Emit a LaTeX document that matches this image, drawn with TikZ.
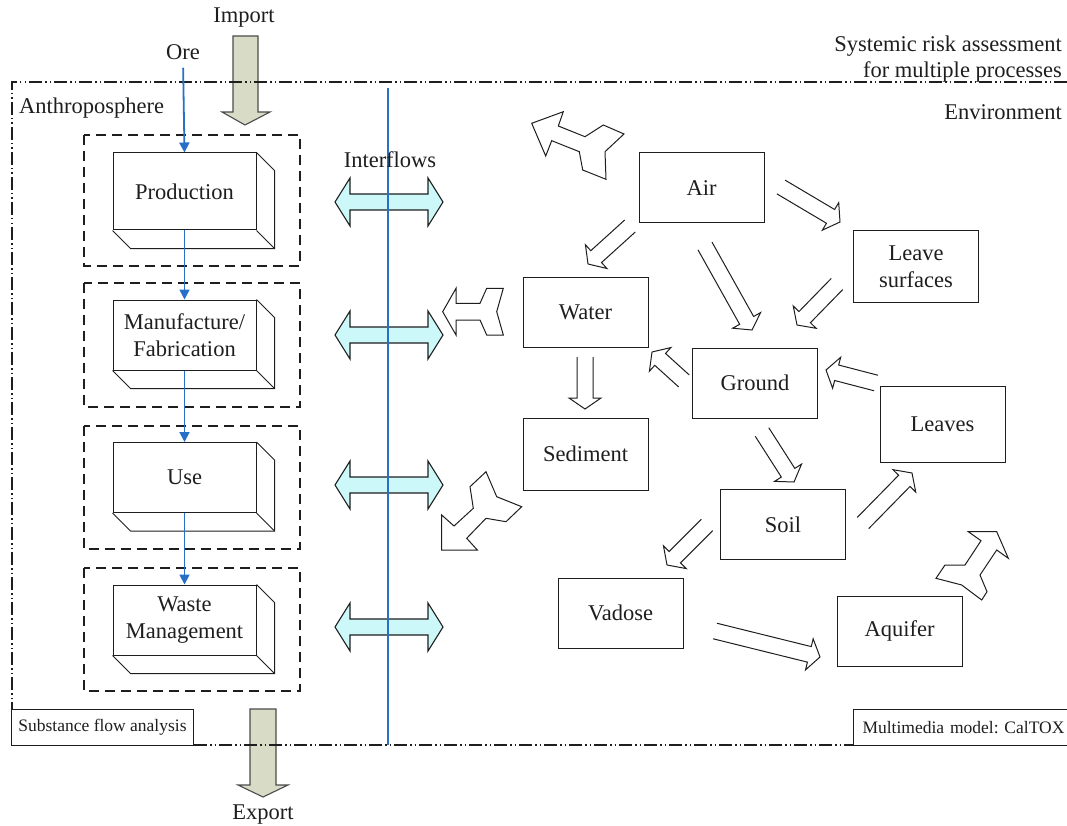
\documentclass[tikz,border=0pt]{standalone}
\usepackage{fontspec}
\setmainfont{Liberation Serif}
\usetikzlibrary{calc,arrows.meta}
\definecolor{flowblue}{RGB}{38,112,200}
\definecolor{tradefill}{RGB}{216,219,198}
\definecolor{interfill}{RGB}{204,248,250}
\definecolor{ink}{RGB}{30,30,30}
\frenchspacing
\tikzset{
  lbl/.style={font=\fontsize{22.5}{27}\selectfont, inner sep=0pt, align=center, text=ink},
  smalllbl/.style={font=\fontsize{17.5}{20}\selectfont, inner sep=0pt, text=ink},
  envbox/.style={draw=ink, line width=1pt, font=\fontsize{22.5}{27}\selectfont, align=center,
    minimum width=125pt, minimum height=70pt, inner sep=0pt, text=ink},
  procbox/.style={draw=ink, line width=1pt, font=\fontsize{22.5}{27}\selectfont, align=center,
    minimum width=143pt, minimum height=70pt, inner sep=0pt, text=ink},
  extrude/.style={draw=ink, line width=1pt},
  stagebox/.style={draw=ink, line width=1.8pt, dash pattern=on 10pt off 6pt},
  frame/.style={draw=ink, line width=1.3pt, dash pattern=on 13pt off 3pt on 1.5pt off 3pt on 1.5pt off 3pt},
  trade/.style={draw=ink!80, line width=1.1pt, fill=tradefill, line join=miter},
  inter/.style={draw=ink, line width=1.1pt, fill=interfill, line join=miter},
  blueflow/.style={draw=flowblue, line width=1.8pt, -{Triangle[length=10pt,width=10pt]}},
  flow/.style={draw=ink, line width=1pt, line join=miter},
  forked/.style={draw=ink, line width=1pt, line join=miter},
}
% hollow block arrow with an open tail: #1 name, #2 tail centre, #3 tip
\newcommand\flowarrow[3]{%
  \coordinate (#1-t) at (#2);
  \coordinate (#1-p) at (#3);
  \coordinate (#1-h) at ($(#1-p)!11pt!(#1-t)$);
  \draw[flow] ($(#1-t)!8pt!90:(#1-p)$) -- ($(#1-h)!8pt!90:(#1-p)$)
    -- ($(#1-h)!16pt!90:(#1-p)$) -- (#1-p) -- ($(#1-h)!16pt!-90:(#1-p)$)
    -- ($(#1-h)!8pt!-90:(#1-p)$) -- ($(#1-t)!8pt!-90:(#1-p)$);
}
% double-headed interflow arrow centred on height #1
\newcommand\interarrow[1]{%
  \draw[inter] (335,#1) -- (350,#1-24) -- (350,#1-8) -- (428,#1-8) -- (428,#1-24)
    -- (443,#1) -- (428,#1+24) -- (428,#1+8) -- (350,#1+8) -- (350,#1+24) -- cycle;
}
\begin{document}
\begin{tikzpicture}[x=1pt,y=-1pt]
\useasboundingbox (0,0) rectangle (1067,826);

% import and export of goods
\draw[trade] (233,36) -- (258,36) -- (258,112) -- (270,112) -- (245,125) -- (222,112) -- (233,112) -- cycle;
\node[lbl] (import) at (244,18) {Import};
\draw[trade] (250,709) -- (276,709) -- (276,785) -- (288,785) -- (263,797) -- (238,785) -- (250,785) -- cycle;
\node[lbl] (export) at (263,815) {Export};

% system boundary (open towards the right border)
\draw[frame] (1067,82) -| (12,745) -- (1067,745);
\node[lbl, anchor=east] (sra1) at (1062,46) {Systemic risk assessment};
\node[lbl, anchor=east] (sra2) at (1062,72) {for multiple processes};
\node[lbl, anchor=east] (envlbl) at (1062,112) {Environment};
\node[lbl, anchor=west] (anthlbl) at (19,108) {Anthroposphere};

% life-cycle stages
\draw[stagebox] (84,135) rectangle (300,266);
\draw[stagebox] (84,283) rectangle (300,407);
\draw[stagebox] (84,426) rectangle (300,549);
\draw[stagebox] (84,568) rectangle (300,691);

\node[procbox, minimum height=77pt] (prod) at (184.5,191.5) {Production};
\node[procbox] (manu) at (184.5,335) {Manufacture/\\Fabrication};
\node[procbox] (use) at (184.5,477.5) {Use};
\node[procbox] (waste) at (184.5,620) {Waste\\Management};
\foreach \b in {prod,manu,use,waste}{
  \draw[extrude] (\b.south west) -- ++(18,18) -| ($(\b.north east)+(18,18)$) -- (\b.north east);
  \draw[extrude] (\b.south east) -- ++(18,18);
}

\node[lbl] (ore) at (183,52) {Ore};
\draw[blueflow, shorten <=8pt] (ore.south) -- (prod.north);
\draw[blueflow] (prod.south) -- (manu.north);
\draw[blueflow] (manu.south) -- (use.north);
\draw[blueflow] (use.south) -- (waste.north);

% interflows across the boundary
\interarrow{202}
\interarrow{335}
\interarrow{485}
\interarrow{627}
\coordinate (divtop) at (388,88);
\coordinate (divbot) at (388,745);
\draw[flowblue, line width=2pt] (divtop) -- (divbot);
\node[lbl] (interlbl) at (390,160) {Interflows};

% labels of the two models
\node[smalllbl, draw=ink, line width=1pt, fill=white, minimum width=182pt, minimum height=36pt, anchor=north west] (sfa) at (11,709) {Substance flow analysis};
\node[smalllbl, draw=ink, line width=1pt, fill=white, anchor=north west, minimum height=36pt, text width=216pt, align=left] (caltox) at (853,709) {\hspace*{9pt}Multimedia model: CalTOX};

% environmental compartments
\node[envbox] (air) at (701.5,188) {Air};
\node[envbox, minimum height=71pt] (leafsurf) at (916,266.5) {Leave\\surfaces};
\node[envbox] (water) at (585.5,312.5) {Water};
\node[envbox] (ground) at (755,383) {Ground};
\node[envbox, minimum height=72pt] (sediment) at (585.5,454) {Sediment};
\node[envbox, minimum height=76pt] (leaves) at (942.5,424) {Leaves};
\node[envbox] (soil) at (783,524.5) {Soil};
\node[envbox] (vadose) at (620.5,613) {Vadose};
\node[envbox] (aquifer) at (899.5,631) {Aquifer};

% transfers between compartments
\flowarrow{a1}{781,187}{840,222}
\flowarrow{a2}{630,226}{588,264}
\flowarrow{a3}{705,246}{752,330}
\flowarrow{a4}{837,284}{797,325}
\flowarrow{a5}{585,357}{585,409}
\flowarrow{a6}{684,381}{652,352}
\flowarrow{a7}{876,383}{826,370}
\flowarrow{a8}{762,432}{794,482}
\flowarrow{a9}{863,523}{912,473}
\flowarrow{a10}{707,525}{667,565}
\flowarrow{a11}{715,631}{820,657}

% exchanges of the compartments with the anthroposphere
\draw[forked] (531.7,123.3) -- (563.3,111.7) -- (558.3,126) -- (585,136.7) -- (603.3,125) -- (624,134)
  -- (605,151.7) -- (606,179.3) -- (582.7,170) -- (579.3,151.7) -- (551.7,140.7) -- (545.7,156) -- cycle;
\draw[forked] (442.7,311.7) -- (456,288.3) -- (456,303.3) -- (480,303.3) -- (486.7,288.3) -- (503.3,288.3)
  -- (496.7,311.7) -- (503.3,335) -- (486.7,335) -- (480,320) -- (456,320) -- (456,335) -- cycle;
\draw[forked] (486,471.7) -- (496.7,496.7) -- (521.7,506.7) -- (506,521.7) -- (486,518.3) -- (466.7,538.3)
  -- (477.3,550) -- (441.7,550) -- (441.7,515) -- (454,526) -- (473.3,508.3) -- (470,486.7) -- cycle;
\draw[forked] (996.7,531.7) -- (1008.3,558.3) -- (996.7,550) -- (980,575) -- (987,591.7) -- (981.7,600)
  -- (961.7,585) -- (936,578.3) -- (945,565) -- (965,565) -- (981,540.7) -- (968.3,531.7) -- cycle;
\end{tikzpicture}
\end{document}
